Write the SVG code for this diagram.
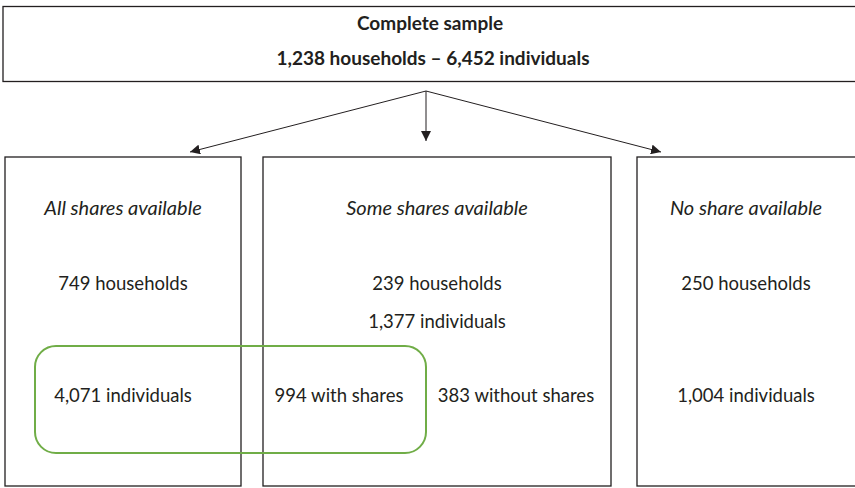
<svg xmlns="http://www.w3.org/2000/svg" width="855" height="488" viewBox="0 0 855 488">
<style>
text{font-family:Lato,"Liberation Sans",sans-serif;font-size:18.5px;fill:#231f20;text-anchor:middle}
.b{font-weight:bold;font-size:19px}
.i{font-style:italic;font-size:20px}
.box{fill:#fff;stroke:#231f20;stroke-width:1.3}
.conn{stroke:#231f20;stroke-width:1;fill:none}
</style>
<defs>
<marker id="ah" viewBox="0 0 10 10" refX="10" refY="5" markerWidth="10" markerHeight="10" markerUnits="userSpaceOnUse" orient="auto">
<path d="M0,0 L10,5 L0,10 z" fill="#231f20"/>
</marker>
</defs>
<g id="top">
<rect class="box" x="3" y="6.5" width="870" height="75"/>
<text class="b" x="430" y="30">Complete sample</text>
<text class="b" x="433" y="65">1,238 households – 6,452 individuals</text>
</g>
<g id="connectors">
<line class="conn" x1="426" y1="91" x2="190" y2="152" marker-end="url(#ah)"/>
<line class="conn" x1="426" y1="91" x2="426" y2="141" marker-end="url(#ah)"/>
<line class="conn" x1="426" y1="91" x2="661" y2="152" marker-end="url(#ah)"/>
</g>
<g id="all">
<rect class="box" x="5" y="157" width="236" height="329"/>
<text class="i" x="123" y="215">All shares available</text>
<text x="123" y="290">749 households</text>
<text x="123" y="402">4,071 individuals</text>
</g>
<g id="some">
<rect class="box" x="263" y="157" width="348" height="329"/>
<text class="i" x="437" y="215">Some shares available</text>
<text x="437" y="290">239 households</text>
<text x="437" y="328">1,377 individuals</text>
<text x="339" y="402">994 with shares</text>
<text x="516" y="402">383 without shares</text>
</g>
<g id="none">
<rect class="box" x="637" y="157" width="240" height="329"/>
<text class="i" x="746" y="215">No share available</text>
<text x="746" y="290">250 households</text>
<text x="746" y="402">1,004 individuals</text>
</g>
<g id="highlight">
<rect x="35" y="346" width="391" height="107" rx="21" fill="none" stroke="#70ad47" stroke-width="2"/>
</g>
</svg>
